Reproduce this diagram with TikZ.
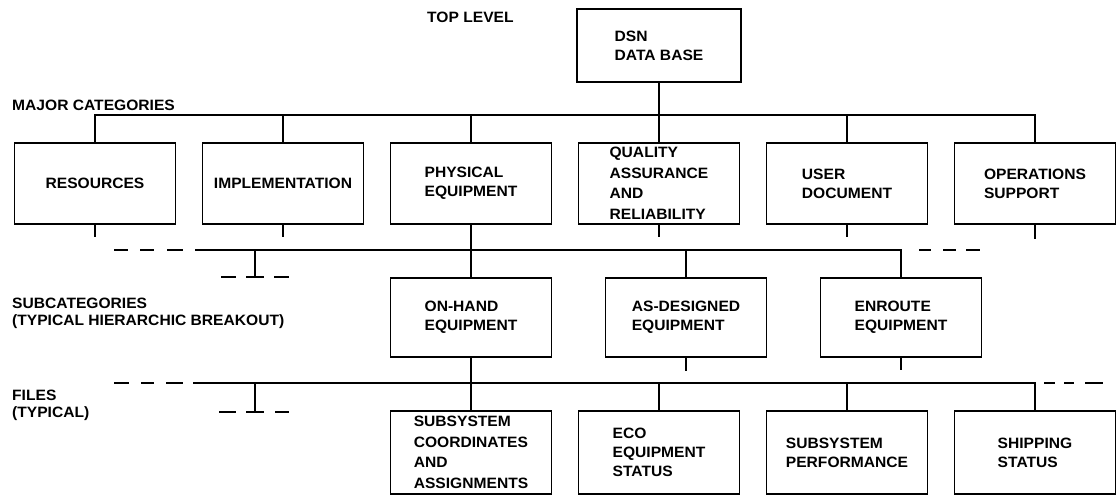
\documentclass[tikz,border=0pt]{standalone}
\usepackage{fontspec}
\setmainfont{Liberation Sans}[FakeStretch=1.04]
\begin{document}
\begin{tikzpicture}[x=1pt,y=-1pt,
  box/.style={draw, line width=1.8pt, minimum width=161pt, align=left, inner sep=0pt,
    font=\fontsize{15}{19}\selectfont\bfseries},
  tall/.style={font=\fontsize{15}{20.5}\selectfont\bfseries},
  conn/.style={line width=2.5pt},
  lbl/.style={anchor=west, align=left, inner sep=0pt, font=\fontsize{15}{17}\selectfont\bfseries}]
\useasboundingbox (0,0) rectangle (1120,497);

% labels
\node[lbl] (tl) at (427,17) {TOP LEVEL};
\node[lbl] (mc) at (12,105) {MAJOR CATEGORIES};
\node[lbl] (sc) at (12,313.5) {SUBCATEGORIES\\(TYPICAL HIERARCHIC BREAKOUT)};
\node[lbl] (fl) at (12,405) {FILES\\(TYPICAL)};

% top
\node[box, minimum width=164pt, minimum height=73pt] (dsn) at (659,45.5) {DSN\\DATA BASE};

% major categories
\node[box, minimum height=81pt] (res)  at (95,183.5)  {RESOURCES};
\node[box, minimum height=81pt] (impl) at (283,183.5) {IMPLEMENTATION};
\node[box, minimum height=81pt] (phys) at (471,183.5) {PHYSICAL\\EQUIPMENT};
\node[box, tall, minimum height=81pt] (qa) at (659,183.5) {QUALITY\\ASSURANCE\\AND\\RELIABILITY};
\node[box, minimum height=81pt] (user) at (847,183.5) {USER\\DOCUMENT};
\node[box, minimum height=81pt] (ops)  at (1035,183.5) {OPERATIONS\\SUPPORT};

% subcategories
\node[box, minimum height=79pt] (onh) at (471,317.5) {ON-HAND\\EQUIPMENT};
\node[box, minimum height=79pt] (asd) at (686,317.5) {AS-DESIGNED\\EQUIPMENT};
\node[box, minimum height=79pt] (enr) at (901,317.5) {ENROUTE\\EQUIPMENT};

% files
\node[box, tall, minimum height=83pt] (ssc) at (471,452.5) {SUBSYSTEM\\COORDINATES\\AND\\ASSIGNMENTS};
\node[box, minimum height=83pt] (eco)  at (659,452.5) {ECO\\EQUIPMENT\\STATUS};
\node[box, minimum height=83pt] (perf) at (847,452.5) {SUBSYSTEM\\PERFORMANCE};
\node[box, minimum height=83pt] (ship) at (1035,452.5) {SHIPPING\\STATUS};

% top bus
\coordinate (ba) at (659,115);
\draw[conn] (dsn.south) -- (qa.north);
\draw[conn] (res.north) |- (ba) -| (ops.north);
\draw[conn] (impl.north) -- (impl.north |- ba);
\draw[conn] (phys.north) -- (phys.north |- ba);
\draw[conn] (user.north) -- (user.north |- ba);

% stubs below major boxes
\coordinate (s1) at (95,237);
\coordinate (s2) at (283,237);
\coordinate (s4) at (659,237);
\coordinate (s5) at (847,237);
\coordinate (s6) at (1035,239);
\draw[conn] (res.south) -- (s1);
\draw[conn] (impl.south) -- (s2);
\draw[conn] (qa.south) -- (s4);
\draw[conn] (user.south) -- (s5);
\draw[conn] (ops.south) -- (s6);

% subcategory bus
\draw[conn] (phys.south) -- (onh.north);
\coordinate (sbL) at (195,250);
\draw[conn] (sbL) -| (enr.north);
\draw[conn] (asd.north) -- (asd.north |- sbL);
\draw[conn] (114,250) -- (128,250) (140,250) -- (154,250) (167,250) -- (183,250);
\draw[conn] (919,250) -- (931,250) (943,250) -- (956,250) (966,250) -- (980,250);
\coordinate (stA) at (255,250);
\coordinate (stB) at (255,277);
\draw[conn] (stA) -- (stB);
\draw[conn] (221,277) -- (236,277) (246,277) -- (264,277) (274,277) -- (289,277);

% stubs below subcategory boxes
\coordinate (u2) at (686,371);
\coordinate (u3) at (901,370);
\draw[conn] (asd.south) -- (u2);
\draw[conn] (enr.south) -- (u3);

% files bus
\draw[conn] (onh.south) -- (ssc.north);
\coordinate (fbL) at (193,383);
\draw[conn] (fbL) -| (ship.north);
\draw[conn] (eco.north) -- (eco.north |- fbL);
\draw[conn] (perf.north) -- (perf.north |- fbL);
\draw[conn] (114,383) -- (129,383) (141,383) -- (154,383) (166,383) -- (183,383);
\draw[conn] (1044,383) -- (1055,383) (1064,383) -- (1074,383) (1085,383) -- (1103,383);
\coordinate (ftA) at (255,383);
\coordinate (ftB) at (255,412);
\draw[conn] (ftA) -- (ftB);
\draw[conn] (219,412) -- (236,412) (246,412) -- (264,412) (275,412) -- (289,412);
\end{tikzpicture}
\end{document}
